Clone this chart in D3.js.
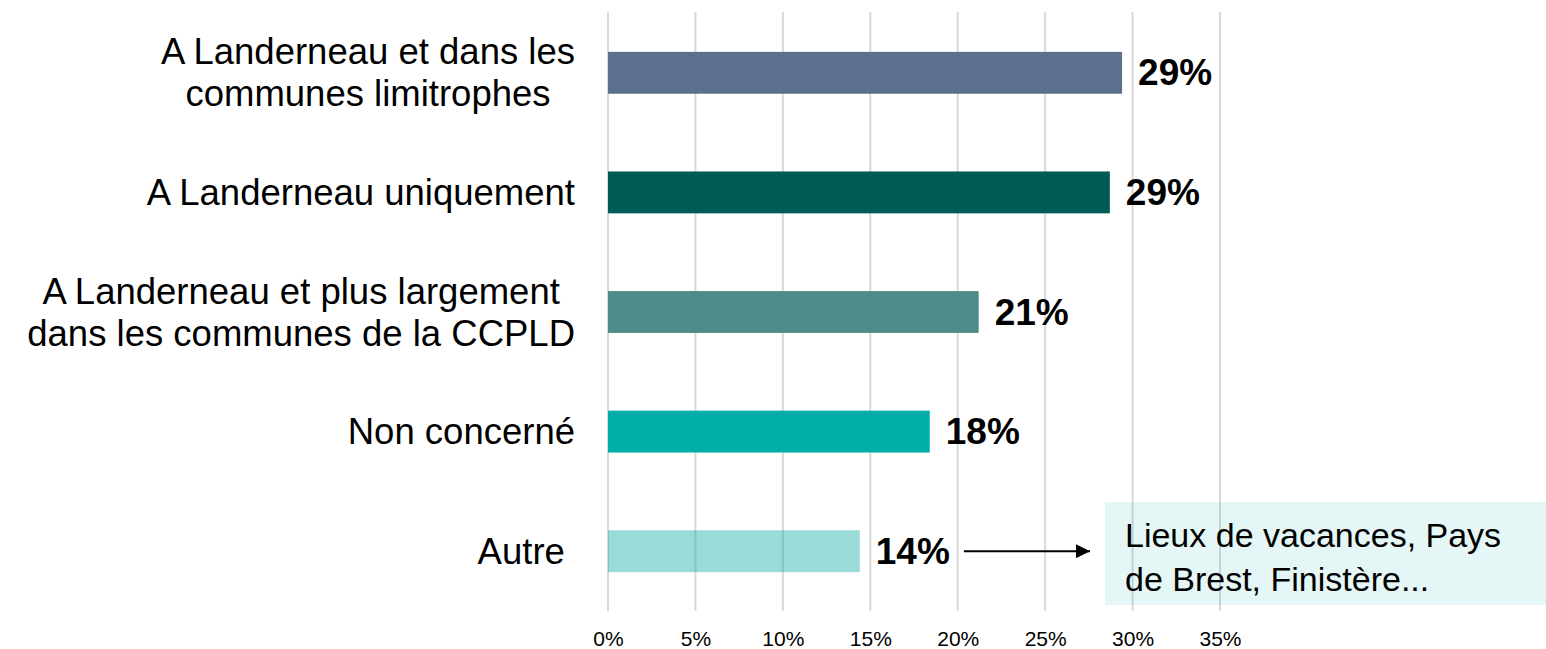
<!DOCTYPE html>
<html>
<head>
<meta charset="utf-8">
<script src="https://cdn.jsdelivr.net/npm/d3@7"></script>
<style>
  body { margin: 0; background: #fff; }
  text { font-family: "Liberation Sans", Arial, sans-serif; }
  tspan { white-space: pre; }
</style>
</head>
<body>
<div id="chart"></div>
<script>
// data
const categories = [
  ["A Landerneau et dans les", "communes limitrophes"],
  ["A Landerneau uniquement"],
  ["A Landerneau et plus largement", "dans les communes de la CCPLD"],
  ["Non concerné"],
  ["Autre "]
];
const values = [29.4, 28.7, 21.2, 18.4, 14.4];
const valueLabels = ["29%", "29%", "21%", "18%", "14%"];
const colors = ["#5C6F8C", "#005B57", "#4F8C89", "#00AEA9", "#00A5A1"];
const opacities = [1, 1, 1, 1, 0.4];
const ticks = [0, 5, 10, 15, 20, 25, 30, 35];
const noteLines = ["Lieux de vacances, Pays", "de Brest, Finistère..."];

const W = 1546, H = 649;
const margin = { top: 13, right: 326, bottom: 38, left: 608 };

const svg = d3.select("#chart")
  .append("svg")
  .attr("width", W)
  .attr("height", H);

const x = d3.scaleLinear()
  .domain([0, 35])
  .range([margin.left, W - margin.right]);

const y = d3.scaleBand()
  .domain(d3.range(categories.length))
  .range([margin.top, H - margin.bottom])
  .paddingInner(0.65)
  .paddingOuter(0.325);

// vertical gridlines
svg.append("g")
  .selectAll("line")
  .data(ticks)
  .join("line")
  .attr("x1", d => x(d))
  .attr("x2", d => x(d))
  .attr("y1", 12)
  .attr("y2", 611)
  .attr("stroke", "#d9d9d9")
  .attr("stroke-width", 2);

// x axis labels
const xAxis = svg.append("g")
  .attr("transform", `translate(0, 638)`)
  .call(d3.axisBottom(x).tickValues(ticks).tickFormat(d => d + "%").tickSize(0));
xAxis.select(".domain").remove();
xAxis.selectAll("text")
  .attr("dy", 0)
  .attr("y", 0)
  .attr("dominant-baseline", "central")
  .style("font-family", "'Liberation Sans', Arial, sans-serif")
  .style("font-size", "21px")
  .attr("fill", "#000");

// note box
const box = svg.append("g");
box.append("rect")
  .attr("x", 1105)
  .attr("y", 502)
  .attr("width", W - 1105)
  .attr("height", 103)
  .attr("fill", "#00A9A5")
  .attr("opacity", 0.1);
box.append("text")
  .attr("x", 1125)
  .attr("y", 547)
  .attr("font-size", "34px")
  .attr("fill", "#000")
  .selectAll("tspan")
  .data(noteLines)
  .join("tspan")
  .attr("x", 1125)
  .attr("dy", (d, i) => i ? 44 : 0)
  .text(d => d);

// bars
svg.append("g")
  .selectAll("rect")
  .data(values)
  .join("rect")
  .attr("x", x(0))
  .attr("y", (d, i) => y(i))
  .attr("width", d => x(d) - x(0))
  .attr("height", y.bandwidth())
  .attr("fill", (d, i) => colors[i])
  .attr("opacity", (d, i) => opacities[i]);

// value labels
const vLabels = svg.append("g")
  .selectAll("text")
  .data(values)
  .join("text")
  .attr("x", d => x(d) + 16)
  .attr("y", (d, i) => y(i) + y.bandwidth() / 2)
  .attr("dominant-baseline", "central")
  .attr("font-size", "37px")
  .attr("font-weight", "bold")
  .attr("fill", "#000")
  .text((d, i) => valueLabels[i]);

// arrow from last label to the note box
svg.append("defs").append("marker")
  .attr("id", "head")
  .attr("viewBox", "0 0 10 10")
  .attr("refX", 10)
  .attr("refY", 5)
  .attr("markerWidth", 7.5)
  .attr("markerHeight", 7)
  .attr("markerUnits", "strokeWidth")
  .attr("orient", "auto")
  .append("path")
  .attr("d", "M0,0L10,5L0,10z")
  .attr("fill", "#000");

const last = vLabels.nodes()[values.length - 1].getBBox();
const arrowY = y(values.length - 1) + y.bandwidth() / 2;
svg.append("line")
  .attr("x1", last.x + last.width + 14)
  .attr("x2", 1090)
  .attr("y1", arrowY)
  .attr("y2", arrowY)
  .attr("stroke", "#000")
  .attr("stroke-width", 2)
  .attr("marker-end", "url(#head)");

// category labels, lines centred in a box whose right edge is at 575
const labelRight = 575;
const lineH = 42;
categories.forEach((lines, i) => {
  const g = svg.append("text")
    .attr("font-size", "36.5px")
    .attr("fill", "#000")
    .attr("text-anchor", "middle");
  const cy = y(i) + y.bandwidth() / 2;
  const spans = g.selectAll("tspan")
    .data(lines)
    .join("tspan")
    .attr("dominant-baseline", "central")
    .text(d => d);
  const maxW = d3.max(spans.nodes(), n => n.getComputedTextLength());
  spans
    .attr("x", labelRight - maxW / 2)
    .attr("y", (d, j) => cy + (j - (lines.length - 1) / 2) * lineH);
});
</script>
</body>
</html>
